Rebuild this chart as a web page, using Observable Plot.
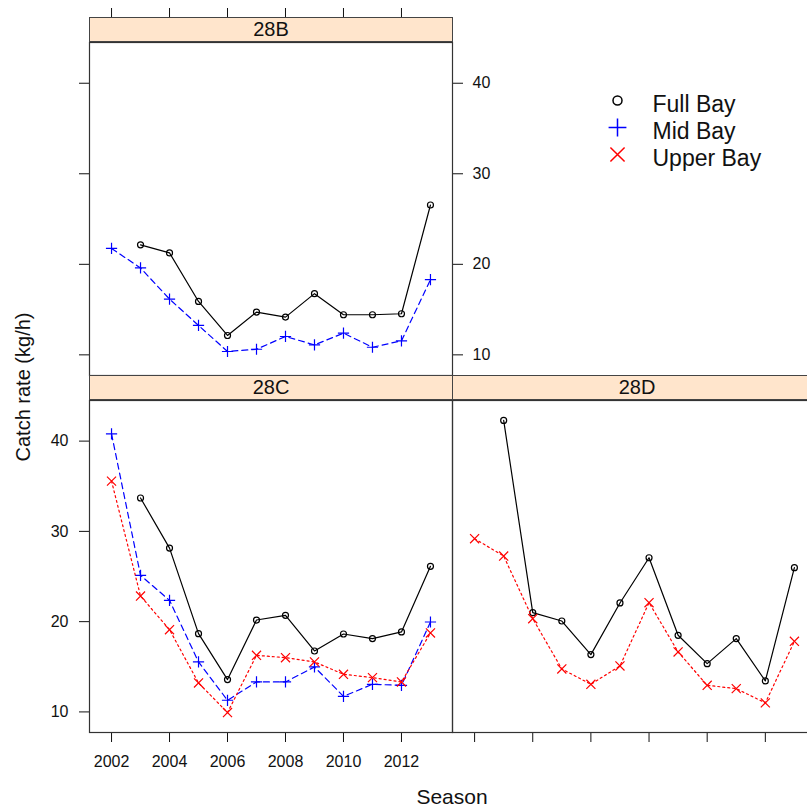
<!DOCTYPE html>
<html>
<head>
<meta charset="utf-8">
<script src="https://cdn.jsdelivr.net/npm/d3@7"></script>
<script src="https://cdn.jsdelivr.net/npm/@observablehq/plot@0.6"></script>
<style>
html, body { margin: 0; padding: 0; background: #fff; }
#fig { position: relative; width: 807px; height: 808px; overflow: hidden;
  font-family: Arial, "Liberation Sans", sans-serif; color: #000; background: #fff; }
.strip { position: absolute; box-sizing: border-box; background: #FFE5CC;
  border: 1px solid #444; font-size: 20px; text-align: center; line-height: 23px; color: #111; }
.lab { position: absolute; white-space: nowrap; color: #111; }
</style>
</head>
<body>
<div id="fig"></div>
<script>
// ---- data ----
const seasons = [2002, 2003, 2004, 2005, 2006, 2007, 2008, 2009, 2010, 2011, 2012, 2013];
const seriesNames = ["Full Bay", "Mid Bay", "Upper Bay"];
const panelNames = ["28B", "28C", "28D"];

const full28B  = [null, 22.15, 21.26, 15.9, 12.14, 14.72, 14.17, 16.76, 14.43, 14.43, 14.54, 26.55];
const mid28B   = [21.75, 19.6, 16.16, 13.25, 10.37, 10.62, 12.03, 11.1, 12.4, 10.84, 11.55, 18.3];

const full28C  = [null, 33.7, 28.15, 18.67, 13.58, 20.18, 20.7, 16.75, 18.63, 18.12, 18.86, 26.13];
const mid28C   = [40.8, 25.13, 22.36, 15.54, 11.29, 13.32, 13.32, 14.98, 11.73, 13.06, 12.95, 19.96];
const upper28C = [35.57, 22.84, 19.11, 13.21, 9.93, 16.27, 16.01, 15.54, 14.17, 13.8, 13.32, 18.75];

const full28D  = [null, 42.29, 21.0, 20.07, 16.35, 22.07, 27.08, 18.49, 15.35, 18.12, 13.43, 25.98];
const upper28D = [29.19, 27.27, 20.33, 14.76, 13.06, 15.09, 22.1, 16.64, 12.95, 12.58, 11.0, 17.82];

const xTicks = [2002, 2004, 2006, 2008, 2010, 2012];
const yTicks = [10, 20, 30, 40];

// ---- tidy table ----
const seriesByPanel = {
  "28B": {"Full Bay": full28B, "Mid Bay": mid28B},
  "28C": {"Full Bay": full28C, "Mid Bay": mid28C, "Upper Bay": upper28C},
  "28D": {"Full Bay": full28D, "Upper Bay": upper28D}
};
const rows = [];
for (const p of panelNames) {
  for (const s of seriesNames) {
    const vals = seriesByPanel[p][s];
    if (!vals) continue;
    vals.forEach((v, i) => { if (v != null) rows.push({panel: p, series: s, season: seasons[i], value: v}); });
  }
}

// ---- styling ----
const seriesColors = ["#000000", "#0000FF", "#FF0000"];
const look = {
  "Full Bay":  {dash: null,  symbol: "circle", r: 3,   lr: 4.5},
  "Mid Bay":   {dash: "6,4", symbol: "plus",   r: 3.7, lr: 5.8},
  "Upper Bay": {dash: "2,3", symbol: "times",  r: 4.2, lr: 6.5}
};
const colorScale = {domain: seriesNames, range: seriesColors};
const xDomain = [2001.24, 2013.76];
const yDomain = [7.72, 44.5];
const fig = document.getElementById("fig");
const baseStyle = {fontFamily: "Arial, 'Liberation Sans', sans-serif", fontSize: "16px",
  background: "transparent", overflow: "visible", color: "#111"};

function seriesMarks(panel) {
  const marks = [];
  for (const s of seriesNames) {
    const sd = rows.filter(d => d.panel === panel && d.series === s);
    if (!sd.length) continue;
    const L = look[s];
    marks.push(Plot.line(sd, {x: "season", y: "value", stroke: "series", strokeWidth: 1.2,
      strokeDasharray: L.dash}));
    marks.push(Plot.dot(sd, {x: "season", y: "value", stroke: "series", symbol: L.symbol,
      r: L.r, strokeWidth: 1.2, fill: "none"}));
  }
  return marks;
}

function place(el, left, top) {
  el.style.position = "absolute";
  el.style.left = left + "px";
  el.style.top = top + "px";
  fig.appendChild(el);
}
function strip(text, left, top, width, height) {
  const d = document.createElement("div");
  d.className = "strip";
  d.textContent = text;
  d.style.left = left + "px"; d.style.top = top + "px";
  d.style.width = width + "px"; d.style.height = height + "px";
  fig.appendChild(d);
}

// Panel 28B (top-left)
const p28B = Plot.plot({
  width: 520, height: 380,
  marginLeft: 89, marginRight: 68, marginTop: 42, marginBottom: 5,
  x: {domain: xDomain}, y: {domain: yDomain}, color: colorScale,
  style: baseStyle,
  marks: [
    Plot.axisX({ticks: xTicks, anchor: "top", tickSize: 35, tickFormat: () => "", label: null, stroke: "#111"}),
    Plot.axisY({ticks: yTicks, anchor: "left", tickSize: 10, tickFormat: () => "", label: null, stroke: "#111"}),
    Plot.axisY({ticks: yTicks, anchor: "right", tickSize: 10, tickPadding: 10, label: null, stroke: "#111"}),
    ...seriesMarks("28B"),
    Plot.frame({stroke: "#333", strokeWidth: 1.2})
  ]
});
place(p28B, 0, 0);

// Panel 28C (bottom-left)
const p28C = Plot.plot({
  width: 460, height: 433,
  marginLeft: 89, marginRight: 8, marginTop: 25, marginBottom: 76,
  x: {domain: xDomain}, y: {domain: yDomain}, color: colorScale,
  style: baseStyle,
  marks: [
    Plot.axisX({ticks: xTicks, anchor: "bottom", tickSize: 10, tickPadding: 13, tickFormat: d => String(d), label: null, stroke: "#111"}),
    Plot.axisY({ticks: yTicks, anchor: "left", tickSize: 10, tickPadding: 11, label: null, stroke: "#111"}),
    ...seriesMarks("28C"),
    Plot.frame({stroke: "#333", strokeWidth: 1.2})
  ]
});
place(p28C, 0, 375);

// Panel 28D (bottom-right, cut at the page edge)
const p28D = Plot.plot({
  width: 380, height: 433,
  marginLeft: 12, marginRight: 4, marginTop: 25, marginBottom: 76,
  x: {domain: xDomain}, y: {domain: yDomain, axis: null}, color: colorScale,
  style: baseStyle,
  marks: [
    Plot.axisX({ticks: xTicks, anchor: "bottom", tickSize: 10, tickFormat: () => "", label: null, stroke: "#111"}),
    ...seriesMarks("28D"),
    Plot.frame({stroke: "#333", strokeWidth: 1.2})
  ]
});
place(p28D, 440, 375);

// strips (on top of the panels)
strip("28B", 89, 17, 364, 25);
strip("28C", 89, 375, 364, 25);
strip("28D", 452, 375, 370, 25);

// Legend
const legendMarks = [];
for (const s of seriesNames) {
  const L = look[s];
  legendMarks.push(Plot.dot([s], {y: d => d, stroke: d => d, frameAnchor: "left", dx: 17,
    symbol: L.symbol, r: L.lr, strokeWidth: 1.5, fill: "none"}));
}
legendMarks.push(Plot.text(seriesNames, {y: d => d, text: d => d, frameAnchor: "left", dx: 52,
  dy: 4, textAnchor: "start", fontSize: 23, fill: "#111"}));
const legend = Plot.plot({
  width: 200, height: 85, margin: 0,
  y: {type: "point", domain: seriesNames, range: [15, 69.5], padding: 0, axis: null},
  color: colorScale,
  style: {...baseStyle, fontSize: "23px"},
  marks: legendMarks
});
place(legend, 600, 85);

// axis titles
const yl = document.createElement("div");
yl.className = "lab";
yl.textContent = "Catch rate (kg/h)";
yl.style.fontSize = "20px";
yl.style.left = "23px"; yl.style.top = "387px";
yl.style.transform = "translate(-50%, -50%) rotate(-90deg)";
fig.appendChild(yl);

const xl = document.createElement("div");
xl.className = "lab";
xl.textContent = "Season";
xl.style.fontSize = "21px";
xl.style.lineHeight = "21px";
xl.style.left = "452px"; xl.style.top = "786px";
xl.style.transform = "translateX(-50%)";
fig.appendChild(xl);
</script>
</body>
</html>
